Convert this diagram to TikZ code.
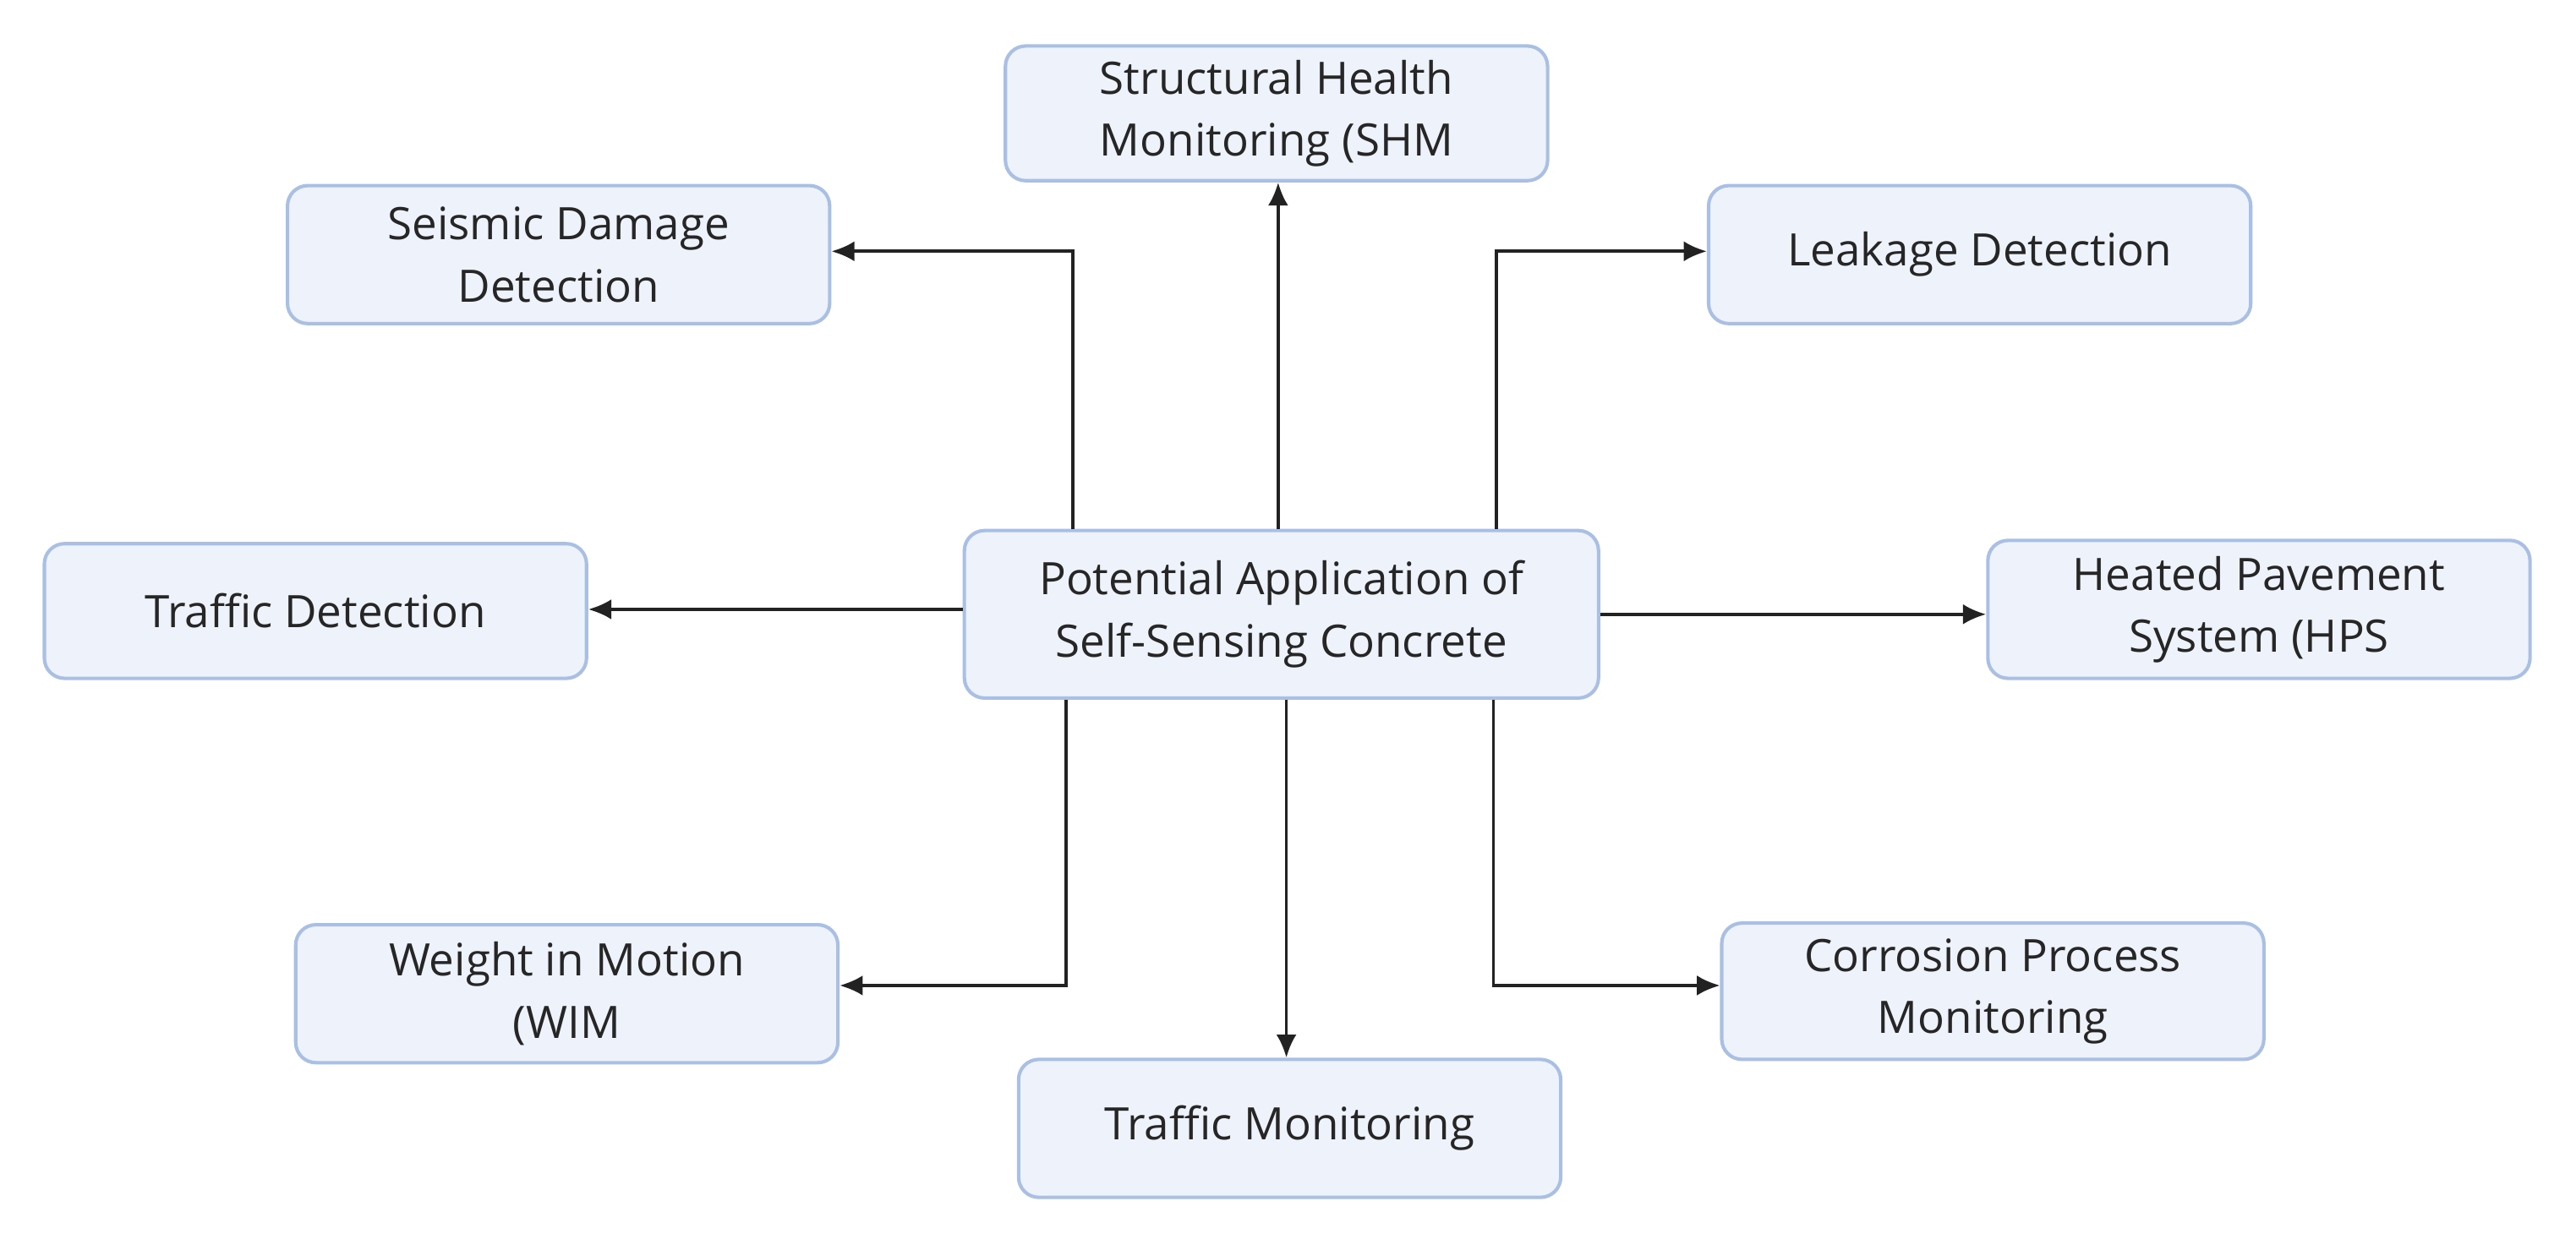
\documentclass[tikz,border=0pt]{standalone}
\usepackage{fontspec}
\setmainfont{Open Sans}
\usetikzlibrary{arrows.meta}
\definecolor{bfill}{HTML}{EEF3FB}
\definecolor{bdraw}{HTML}{A9BFE3}
\definecolor{aline}{HTML}{222222}
\begin{document}
\begin{tikzpicture}[x=0.02cm,y=-0.02cm,
  box/.style={draw=bdraw,fill=bfill,line width=1.2pt,rounded corners=7pt,align=center,
    font=\fontsize{15.5}{21.5}\selectfont,text=black!85,inner sep=0pt},
  arr/.style={draw=aline,line width=1.1pt,-{Latex[length=8pt,width=7pt]}}]
\useasboundingbox (0,0) rectangle (1568,758);
\def\bx(#1,#2,#3,#4,#5,#6){\node[box,minimum width={(#4-#2)*0.02cm},minimum height={(#5-#3)*0.02cm}] (#1) at ({(#2+#4)/2},{(#3+#5)/2}) {#6};}
\bx(shm,612,28,942,110,Structural Health\\Monitoring (SHM))
\bx(sei,175,113,505,197,Seismic Damage\\Detection)
\bx(lea,1040,113,1370,197,Leakage Detection)
\bx(tdet,27,331,357,413,Traffic Detection)
\bx(c,587,323,973,425,Potential Application of\\Self-Sensing Concrete)
\bx(hps,1210,329,1540,413,Heated Pavement\\System (HPS))
\bx(wim,180,563,510,647,Weight in Motion\\(WIM))
\bx(cor,1048,562,1378,645,Corrosion Process\\Monitoring)
\bx(tmon,620,645,950,729,Traffic Monitoring)
\draw[arr] (c.north -| 778,0) -- (shm.south -| 778,0);
\draw[arr] (c.north -| 653,0) |- (sei.east |- 0,153);
\draw[arr] (c.north -| 911,0) |- (lea.west |- 0,153);
\draw[arr] (c.west |- 0,371) -- (tdet.east |- 0,371);
\draw[arr] (c.east |- 0,374) -- (hps.west |- 0,374);
\draw[arr] (c.south -| 649,0) |- (wim.east |- 0,600);
\draw[arr] (c.south -| 783,0) -- (tmon.north -| 783,0);
\draw[arr] (c.south -| 909,0) |- (cor.west |- 0,600);
\end{tikzpicture}
\end{document}
